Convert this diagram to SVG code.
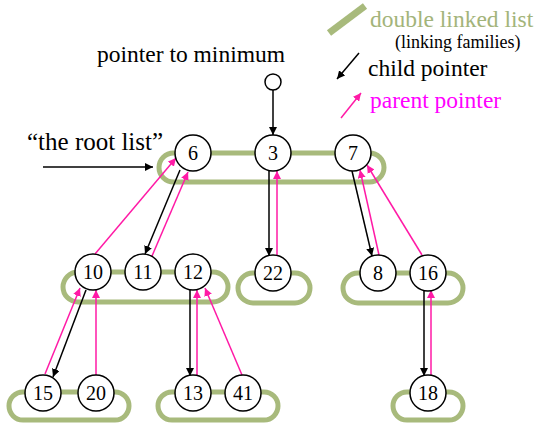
<svg xmlns="http://www.w3.org/2000/svg" width="536" height="427" viewBox="0 0 536 427">
<style>
.loop{fill:none;stroke:#a8ba7c;stroke-width:5}
.nd circle{fill:#fff;stroke:#000;stroke-width:1.5}
.nd text{font-size:20px;text-anchor:middle;fill:#000}
.ch{stroke:#000;stroke-width:1.5;fill:none;marker-end:url(#ab)}
.pa{stroke:#ff1aa6;stroke-width:1.5;fill:none;marker-end:url(#ap)}
</style>
<defs>
<marker id="ab" viewBox="0 0 10 10" refX="10" refY="5" markerWidth="8" markerHeight="8" markerUnits="userSpaceOnUse" orient="auto"><path d="M0,0L10,5L0,10z" fill="#000"/></marker>
<marker id="ap" viewBox="0 0 10 10" refX="10" refY="5" markerWidth="8" markerHeight="8" markerUnits="userSpaceOnUse" orient="auto"><path d="M0,0L10,5L0,10z" fill="#ff1aa6"/></marker>
</defs>
<g font-family="'Liberation Serif', 'DejaVu Serif', serif">
<g id="legend">
<line x1="329" y1="33" x2="365" y2="6" stroke="#a8ba7c" stroke-width="7"/>
<text x="370" y="27" font-size="23.5" fill="#a3b47a">double linked list</text>
<text x="395" y="48" font-size="18" fill="#000">(linking families)</text>
<line x1="359" y1="53" x2="337" y2="79" class="ch"/>
<text x="368" y="76" font-size="23.5" fill="#000">child pointer</text>
<line x1="341" y1="118" x2="361" y2="93" class="pa"/>
<text x="370" y="108" font-size="23.5" fill="#ff00ff">parent pointer</text>
</g>
<g id="labels">
<text x="97" y="62" font-size="23.5" fill="#000">pointer to minimum</text>
<text x="27" y="150" font-size="25" fill="#000">“the root list”</text>
</g>
<g id="loops">
<rect class="loop" x="159" y="153" width="225" height="29" rx="14.5"/>
<rect class="loop" x="63" y="272" width="165" height="30" rx="15"/>
<rect class="loop" x="238" y="273" width="72" height="30" rx="15"/>
<rect class="loop" x="343" y="273" width="120" height="30" rx="15"/>
<rect class="loop" x="9" y="392" width="120" height="28" rx="14"/>
<rect class="loop" x="158" y="392" width="120" height="28" rx="14"/>
<rect class="loop" x="393" y="392" width="70" height="28" rx="14"/>
</g>
<g id="connectors">
<line x1="43" y1="167" x2="153" y2="167" class="ch"/>
<line x1="273" y1="90" x2="273" y2="135" class="ch"/>
<line x1="180" y1="170" x2="145" y2="254" class="ch"/>
<line x1="152" y1="256" x2="188" y2="172" class="pa"/>
<line x1="95" y1="254" x2="176" y2="158" class="pa"/>
<line x1="269" y1="171" x2="269" y2="256" class="ch"/>
<line x1="277" y1="255" x2="277" y2="171" class="pa"/>
<line x1="352" y1="171" x2="372" y2="256" class="ch"/>
<line x1="379" y1="255" x2="360" y2="170" class="pa"/>
<line x1="422" y1="255" x2="367" y2="165" class="pa"/>
<line x1="86" y1="290" x2="53" y2="377" class="ch"/>
<line x1="45" y1="374" x2="80" y2="288" class="pa"/>
<line x1="96" y1="375" x2="96" y2="290" class="pa"/>
<line x1="190" y1="290" x2="190" y2="376" class="ch"/>
<line x1="197" y1="375" x2="197" y2="290" class="pa"/>
<line x1="242" y1="375" x2="205" y2="288" class="pa"/>
<line x1="424" y1="291" x2="424" y2="376" class="ch"/>
<line x1="431" y1="375" x2="431" y2="290" class="pa"/>
</g>
<g id="min" class="nd"><circle cx="273" cy="82" r="8"/></g>
<g id="n6" class="nd"><circle cx="193" cy="153" r="18"/><text x="193" y="160">6</text></g>
<g id="n3" class="nd"><circle cx="273" cy="153" r="18"/><text x="273" y="160">3</text></g>
<g id="n7" class="nd"><circle cx="353" cy="153" r="18"/><text x="353" y="160">7</text></g>
<g id="n10" class="nd"><circle cx="93" cy="272" r="18"/><text x="93" y="279">10</text></g>
<g id="n11" class="nd"><circle cx="143" cy="272" r="18"/><text x="143" y="279">11</text></g>
<g id="n12" class="nd"><circle cx="193" cy="272" r="18"/><text x="193" y="279">12</text></g>
<g id="n22" class="nd"><circle cx="273" cy="273" r="18"/><text x="273" y="280">22</text></g>
<g id="n8" class="nd"><circle cx="378" cy="273" r="18"/><text x="378" y="280">8</text></g>
<g id="n16" class="nd"><circle cx="428" cy="273" r="18"/><text x="428" y="280">16</text></g>
<g id="n15" class="nd"><circle cx="43" cy="393" r="18"/><text x="43" y="400">15</text></g>
<g id="n20" class="nd"><circle cx="96" cy="393" r="18"/><text x="96" y="400">20</text></g>
<g id="n13" class="nd"><circle cx="193" cy="393" r="18"/><text x="193" y="400">13</text></g>
<g id="n41" class="nd"><circle cx="243" cy="393" r="18"/><text x="243" y="400">41</text></g>
<g id="n18" class="nd"><circle cx="428" cy="393" r="18"/><text x="428" y="400">18</text></g>
</g>
</svg>
